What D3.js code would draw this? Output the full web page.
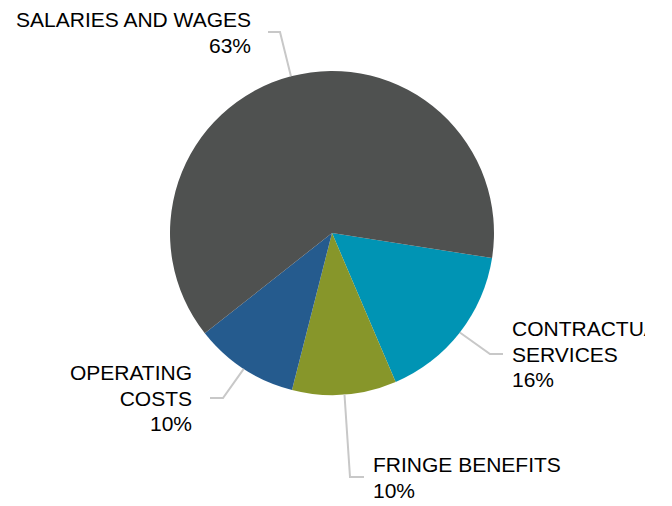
<!DOCTYPE html>
<html>
<head>
<meta charset="utf-8">
<script src="https://cdn.jsdelivr.net/npm/d3@7/dist/d3.min.js"></script>
<style>
  html, body { margin: 0; padding: 0; background: #ffffff; overflow: hidden; }
  svg { display: block; }
  text { font-family: "Liberation Sans", Arial, sans-serif; font-size: 21px; fill: #000000; }
</style>
</head>
<body>
<svg id="chart" width="672" height="506"></svg>
<script>
// Budget share by category (percent), in drawing order clockwise
const categories = ["CONTRACTUAL SERVICES", "FRINGE BENEFITS", "OPERATING COSTS", "SALARIES AND WAGES"];
const shares = [16.1, 10.4, 10.4, 63.1];
const shareLabels = ["16%", "10%", "10%", "63%"];
const sliceColors = ["#0094B4", "#87962A", "#255B8E", "#4F5150"];

// Label layout: text lines, anchor point, leader elbow and leader end
const labelLayout = [
  { lines: ["CONTRACTUAL", "SERVICES"], anchor: "start", x: 512, y: 336, elbow: [490, 354], end: [503, 354] },
  { lines: ["FRINGE BENEFITS"], anchor: "start", x: 373, y: 472, elbow: [350, 477], end: [364, 477] },
  { lines: ["OPERATING", "COSTS"], anchor: "end", x: 192, y: 380, elbow: [223, 398], end: [210, 398] },
  { lines: ["SALARIES AND WAGES"], anchor: "end", x: 251, y: 27, elbow: [280, 32], end: [268, 32] }
];

const cx = 332, cy = 233, radius = 162, lineHeight = 25.5;
const startAngle = 98.9 * Math.PI / 180;

const svg = d3.select("#chart");

// The plot area ends short of the right edge; labels past it are cut off
svg.append("defs").append("clipPath").attr("id", "plotClip")
  .append("rect").attr("x", 0).attr("y", 0).attr("width", 645).attr("height", 506);

const g = svg.append("g").attr("transform", `translate(${cx},${cy})`);

const pie = d3.pie().sort(null).value(d => d)
  .startAngle(startAngle).endAngle(startAngle + 2 * Math.PI);
const arcs = pie(shares);
const arc = d3.arc().innerRadius(0).outerRadius(radius);

g.selectAll("path.slice")
  .data(arcs)
  .join("path")
  .attr("class", "slice")
  .attr("d", arc)
  .attr("fill", (d, i) => sliceColors[i]);

// Leader lines from the middle of each slice's rim
const line = d3.line();
arcs.forEach((a, i) => {
  const mid = (a.startAngle + a.endAngle) / 2;
  const p0 = [cx + radius * Math.sin(mid), cy - radius * Math.cos(mid)];
  const L = labelLayout[i];
  svg.append("path")
    .attr("d", line([p0, L.elbow, L.end]))
    .attr("fill", "none")
    .attr("stroke", "#c8c8c8")
    .attr("stroke-width", 2);
});

// Category and share labels
const labels = svg.append("g").attr("clip-path", "url(#plotClip)");
labelLayout.forEach((L, i) => {
  const t = labels.append("text")
    .attr("text-anchor", L.anchor)
    .attr("x", L.x).attr("y", L.y);
  const rows = L.lines.concat([shareLabels[i]]);
  rows.forEach((r, k) => {
    t.append("tspan").attr("x", L.x).attr("y", L.y + k * lineHeight).text(r);
  });
});
</script>
</body>
</html>
